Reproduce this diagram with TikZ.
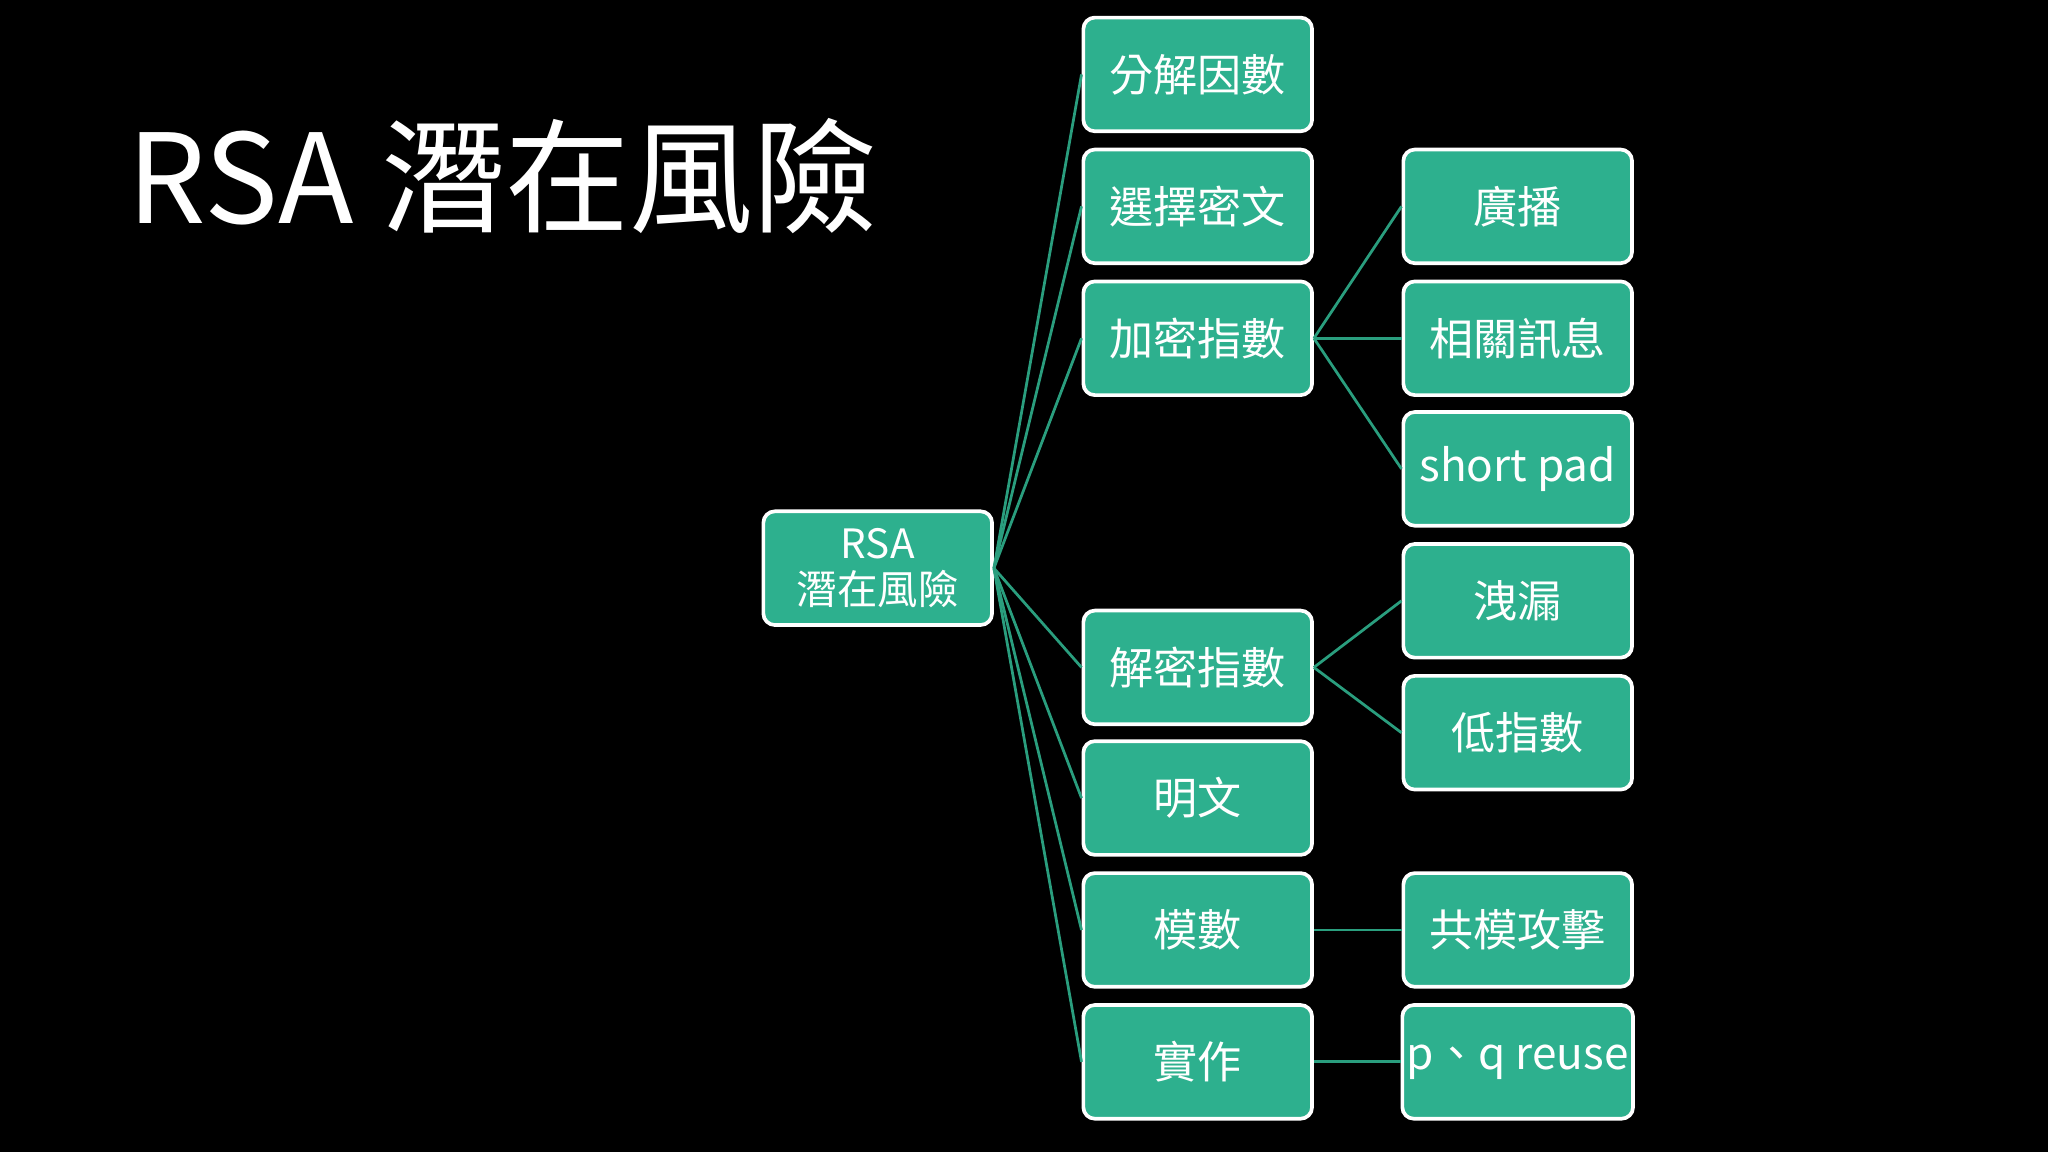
\documentclass[tikz,border=0pt]{standalone}
\usepackage{fontspec}
\setmainfont{Noto Sans CJK TC}
\definecolor{boxg}{HTML}{2DB08E}
\definecolor{lineg}{HTML}{2A9E7E}
\begin{document}
\begin{tikzpicture}[x=0.01cm,y=-0.01cm,
  bx/.style={draw=white,line width=0.8pt,fill=boxg,rounded corners=2.5pt,minimum width=1.75cm,minimum height=0.87cm,text=white,font=\fontsize{9.6}{11}\selectfont,inner sep=1pt,align=center},
  ln/.style={draw=lineg,line width=0.6pt}]
\fill[black] (0,0) rectangle (1568,882);
\node[anchor=west,text=white,font=\fontsize{27}{30}\selectfont] (title) at (85,135) {RSA 潛在風險};
\node[bx,font=\fontsize{8.8}{10}\selectfont] (root) at (672,435) {RSA\\潛在風險};
\node[bx] (a1) at (917,57) {分解因數};
\node[bx] (a2) at (917,158) {選擇密文};
\node[bx] (a3) at (917,259) {加密指數};
\node[bx] (a4) at (917,511) {解密指數};
\node[bx] (a5) at (917,611) {明文};
\node[bx] (a6) at (917,712) {模數};
\node[bx] (a7) at (917,813) {實作};
\node[bx] (b1) at (1162,158) {廣播};
\node[bx] (b2) at (1162,259) {相關訊息};
\node[bx] (b3) at (1162,359) {short pad};
\node[bx] (b4) at (1162,460) {洩漏};
\node[bx] (b5) at (1162,561) {低指數};
\node[bx] (b6) at (1162,712) {共模攻擊};
\node[bx] (b7) at (1162,813) {p、q reuse};
\foreach \n in {a1,a2,a3,a4,a5,a6,a7} \draw[ln] (root.east) -- (\n.west);
\foreach \n in {b1,b2,b3} \draw[ln] (a3.east) -- (\n.west);
\foreach \n in {b4,b5} \draw[ln] (a4.east) -- (\n.west);
\draw[ln] (a6.east) -- (b6.west);
\draw[ln] (a7.east) -- (b7.west);
\end{tikzpicture}
\end{document}
